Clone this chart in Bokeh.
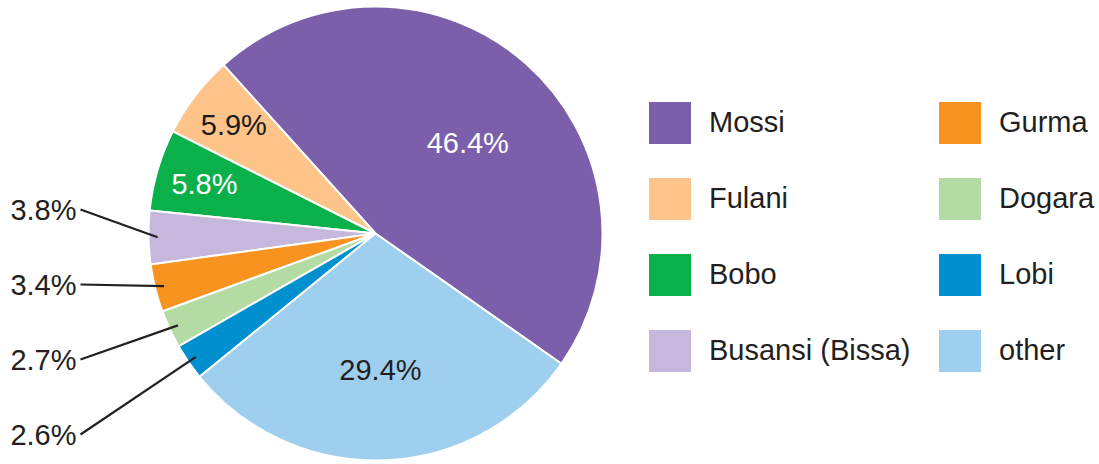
import numpy as np
from bokeh.plotting import figure
from bokeh.models import ColumnDataSource, Legend, LegendItem
from bokeh.core.properties import value
from bokeh.embed import file_html
from bokeh.resources import INLINE

# ---- data ----
groups = ["Mossi", "Fulani", "Bobo", "Busansi (Bissa)", "Gurma", "Dogara", "Lobi", "other"]
shares = [46.4, 5.9, 5.8, 3.8, 3.4, 2.7, 2.6, 29.4]
colors = ["#7b5fab", "#fec48a", "#0ab04a", "#c5b8dc", "#f7931e", "#b5dba4", "#008fcf", "#9fcfee"]
inside_text_colors = ["#ffffff", "#1a1a1a", "#ffffff", None, None, None, None, "#231f20"]

# ---- layout constants ----
W, H = 1099, 464
CX, CY, R = 375, 231, 227
START_DEG = -35.0
FONT = "Liberation Sans"
FS = "29px"
DARK = "#231f20"

vals = np.array(shares)
cum = np.cumsum(vals)
start_deg = START_DEG + 3.6 * (cum - vals)
end_deg = START_DEG + 3.6 * cum
mid = np.radians((start_deg + end_deg) / 2)

src = ColumnDataSource(dict(
    group=groups, share=shares, color=colors,
    start=np.radians(start_deg), end=np.radians(end_deg),
))

p = figure(width=W, height=H, x_range=(0, W), y_range=(0, H),
           output_backend="svg", toolbar_location=None,
           x_axis_type=None, y_axis_type=None, min_border=0,
           outline_line_color=None)
p.grid.visible = False

w = p.wedge(x=CX, y=CY, radius=R, start_angle="start", end_angle="end",
            direction="anticlock", fill_color="color", line_color="white",
            line_width=2, source=src)

# inside labels
in_idx = [i for i, v in enumerate(shares) if v >= 5]
in_r = [0.57 if shares[i] > 40 else (0.6 if shares[i] > 20 else 0.785) for i in in_idx]
in_shift = [np.radians(-4) if shares[i] > 40 else 0 for i in in_idx]
p.text(x=[CX + r * R * np.cos(mid[i] + s) for i, r, s in zip(in_idx, in_r, in_shift)],
       y=[CY + r * R * np.sin(mid[i] + s) for i, r, s in zip(in_idx, in_r, in_shift)],
       text=[f"{shares[i]}%" for i in in_idx],
       text_color=[inside_text_colors[i] for i in in_idx],
       text_font=value(FONT), text_font_size=FS,
       text_align="center", text_baseline="middle")

# outside labels with leader lines
out_idx = [i for i, v in enumerate(shares) if v < 5]
lab_x = 76
lab_y = [255 - 75 * k for k in range(len(out_idx))]
p.segment(x0=[lab_x + 4] * len(out_idx), y0=lab_y,
          x1=[CX + 0.96 * R * np.cos(mid[i]) for i in out_idx],
          y1=[CY + 0.96 * R * np.sin(mid[i]) for i in out_idx],
          line_color=DARK, line_width=2.2)
p.text(x=[lab_x] * len(out_idx), y=lab_y,
       text=[f"{shares[i]}%" for i in out_idx],
       text_color=DARK, text_font=value(FONT), text_font_size=FS,
       text_align="right", text_baseline="middle")

# legends (two columns); legend glyph box is inset 10% per side by Bokeh
items = [LegendItem(label=g, renderers=[w], index=i) for i, g in enumerate(groups)]
for cols, loc in ((items[:4], (642, 86)), (items[4:], (932, 86))):
    leg = Legend(items=cols, location=loc, orientation="vertical",
                 glyph_width=55, glyph_height=55, spacing=21, label_standoff=12,
                 label_text_font=FONT, label_text_font_size=FS,
                 label_text_color=DARK, padding=0, margin=0,
                 border_line_alpha=0, background_fill_alpha=0)
    p.add_layout(leg)

open("out.html", "w").write(file_html(p, INLINE))
